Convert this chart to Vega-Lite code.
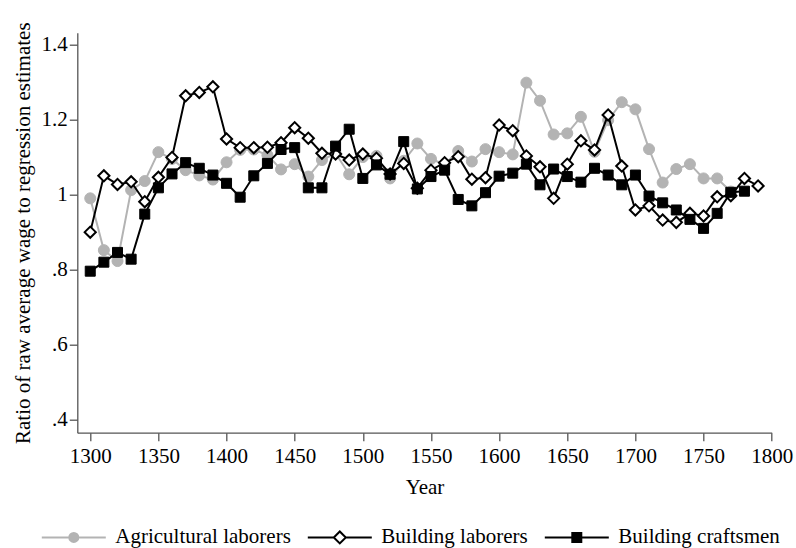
{
  "$schema": "https://vega.github.io/schema/vega-lite/v6.json",
  "width": 694.4,
  "height": 400,
  "autosize": "none",
  "padding": {"left": 77.3, "top": 32.7, "right": 24.3, "bottom": 115.3},
  "background": "#ffffff",
  "data": {"values": [
    {"series": "Agricultural laborers", "year": 1300, "value": 0.99},
    {"series": "Agricultural laborers", "year": 1310, "value": 0.852},
    {"series": "Agricultural laborers", "year": 1320, "value": 0.823},
    {"series": "Agricultural laborers", "year": 1330, "value": 1.012},
    {"series": "Agricultural laborers", "year": 1340, "value": 1.036},
    {"series": "Agricultural laborers", "year": 1350, "value": 1.113},
    {"series": "Agricultural laborers", "year": 1360, "value": 1.095},
    {"series": "Agricultural laborers", "year": 1370, "value": 1.065},
    {"series": "Agricultural laborers", "year": 1380, "value": 1.051},
    {"series": "Agricultural laborers", "year": 1390, "value": 1.04},
    {"series": "Agricultural laborers", "year": 1400, "value": 1.086},
    {"series": "Agricultural laborers", "year": 1410, "value": 1.119},
    {"series": "Agricultural laborers", "year": 1420, "value": 1.12},
    {"series": "Agricultural laborers", "year": 1430, "value": 1.105},
    {"series": "Agricultural laborers", "year": 1440, "value": 1.067},
    {"series": "Agricultural laborers", "year": 1450, "value": 1.081},
    {"series": "Agricultural laborers", "year": 1460, "value": 1.048},
    {"series": "Agricultural laborers", "year": 1470, "value": 1.092},
    {"series": "Agricultural laborers", "year": 1480, "value": 1.11},
    {"series": "Agricultural laborers", "year": 1490, "value": 1.054},
    {"series": "Agricultural laborers", "year": 1500, "value": 1.1},
    {"series": "Agricultural laborers", "year": 1510, "value": 1.103},
    {"series": "Agricultural laborers", "year": 1520, "value": 1.043},
    {"series": "Agricultural laborers", "year": 1530, "value": 1.09},
    {"series": "Agricultural laborers", "year": 1540, "value": 1.136},
    {"series": "Agricultural laborers", "year": 1550, "value": 1.095},
    {"series": "Agricultural laborers", "year": 1560, "value": 1.08},
    {"series": "Agricultural laborers", "year": 1570, "value": 1.116},
    {"series": "Agricultural laborers", "year": 1580, "value": 1.088},
    {"series": "Agricultural laborers", "year": 1590, "value": 1.121},
    {"series": "Agricultural laborers", "year": 1600, "value": 1.113},
    {"series": "Agricultural laborers", "year": 1610, "value": 1.107},
    {"series": "Agricultural laborers", "year": 1620, "value": 1.298},
    {"series": "Agricultural laborers", "year": 1630, "value": 1.25},
    {"series": "Agricultural laborers", "year": 1640, "value": 1.16},
    {"series": "Agricultural laborers", "year": 1650, "value": 1.163},
    {"series": "Agricultural laborers", "year": 1660, "value": 1.207},
    {"series": "Agricultural laborers", "year": 1670, "value": 1.114},
    {"series": "Agricultural laborers", "year": 1680, "value": 1.198},
    {"series": "Agricultural laborers", "year": 1690, "value": 1.246},
    {"series": "Agricultural laborers", "year": 1700, "value": 1.227},
    {"series": "Agricultural laborers", "year": 1710, "value": 1.121},
    {"series": "Agricultural laborers", "year": 1720, "value": 1.032},
    {"series": "Agricultural laborers", "year": 1730, "value": 1.068},
    {"series": "Agricultural laborers", "year": 1740, "value": 1.081},
    {"series": "Agricultural laborers", "year": 1750, "value": 1.043},
    {"series": "Agricultural laborers", "year": 1760, "value": 1.043},
    {"series": "Agricultural laborers", "year": 1770, "value": 1.008},
    {"series": "Building laborers", "year": 1300, "value": 0.9},
    {"series": "Building laborers", "year": 1310, "value": 1.05},
    {"series": "Building laborers", "year": 1320, "value": 1.027},
    {"series": "Building laborers", "year": 1330, "value": 1.034},
    {"series": "Building laborers", "year": 1340, "value": 0.981},
    {"series": "Building laborers", "year": 1350, "value": 1.046},
    {"series": "Building laborers", "year": 1360, "value": 1.099},
    {"series": "Building laborers", "year": 1370, "value": 1.263},
    {"series": "Building laborers", "year": 1380, "value": 1.272},
    {"series": "Building laborers", "year": 1390, "value": 1.287},
    {"series": "Building laborers", "year": 1400, "value": 1.148},
    {"series": "Building laborers", "year": 1410, "value": 1.125},
    {"series": "Building laborers", "year": 1420, "value": 1.125},
    {"series": "Building laborers", "year": 1430, "value": 1.126},
    {"series": "Building laborers", "year": 1440, "value": 1.138},
    {"series": "Building laborers", "year": 1450, "value": 1.178},
    {"series": "Building laborers", "year": 1460, "value": 1.15},
    {"series": "Building laborers", "year": 1470, "value": 1.11},
    {"series": "Building laborers", "year": 1480, "value": 1.108},
    {"series": "Building laborers", "year": 1490, "value": 1.092},
    {"series": "Building laborers", "year": 1500, "value": 1.108},
    {"series": "Building laborers", "year": 1510, "value": 1.097},
    {"series": "Building laborers", "year": 1520, "value": 1.055},
    {"series": "Building laborers", "year": 1530, "value": 1.083},
    {"series": "Building laborers", "year": 1540, "value": 1.017},
    {"series": "Building laborers", "year": 1550, "value": 1.065},
    {"series": "Building laborers", "year": 1560, "value": 1.085},
    {"series": "Building laborers", "year": 1570, "value": 1.101},
    {"series": "Building laborers", "year": 1580, "value": 1.041},
    {"series": "Building laborers", "year": 1590, "value": 1.045},
    {"series": "Building laborers", "year": 1600, "value": 1.185},
    {"series": "Building laborers", "year": 1610, "value": 1.17},
    {"series": "Building laborers", "year": 1620, "value": 1.103},
    {"series": "Building laborers", "year": 1630, "value": 1.074},
    {"series": "Building laborers", "year": 1640, "value": 0.99},
    {"series": "Building laborers", "year": 1650, "value": 1.081},
    {"series": "Building laborers", "year": 1660, "value": 1.143},
    {"series": "Building laborers", "year": 1670, "value": 1.119},
    {"series": "Building laborers", "year": 1680, "value": 1.212},
    {"series": "Building laborers", "year": 1690, "value": 1.076},
    {"series": "Building laborers", "year": 1700, "value": 0.959},
    {"series": "Building laborers", "year": 1710, "value": 0.97},
    {"series": "Building laborers", "year": 1720, "value": 0.932},
    {"series": "Building laborers", "year": 1730, "value": 0.926},
    {"series": "Building laborers", "year": 1740, "value": 0.95},
    {"series": "Building laborers", "year": 1750, "value": 0.943},
    {"series": "Building laborers", "year": 1760, "value": 0.994},
    {"series": "Building laborers", "year": 1770, "value": 0.997},
    {"series": "Building laborers", "year": 1780, "value": 1.043},
    {"series": "Building laborers", "year": 1790, "value": 1.023},
    {"series": "Building craftsmen", "year": 1300, "value": 0.796},
    {"series": "Building craftsmen", "year": 1310, "value": 0.82},
    {"series": "Building craftsmen", "year": 1320, "value": 0.846},
    {"series": "Building craftsmen", "year": 1330, "value": 0.828},
    {"series": "Building craftsmen", "year": 1340, "value": 0.948},
    {"series": "Building craftsmen", "year": 1350, "value": 1.018},
    {"series": "Building craftsmen", "year": 1360, "value": 1.055},
    {"series": "Building craftsmen", "year": 1370, "value": 1.085},
    {"series": "Building craftsmen", "year": 1380, "value": 1.07},
    {"series": "Building craftsmen", "year": 1390, "value": 1.052},
    {"series": "Building craftsmen", "year": 1400, "value": 1.03},
    {"series": "Building craftsmen", "year": 1410, "value": 0.993},
    {"series": "Building craftsmen", "year": 1420, "value": 1.05},
    {"series": "Building craftsmen", "year": 1430, "value": 1.083},
    {"series": "Building craftsmen", "year": 1440, "value": 1.12},
    {"series": "Building craftsmen", "year": 1450, "value": 1.125},
    {"series": "Building craftsmen", "year": 1460, "value": 1.018},
    {"series": "Building craftsmen", "year": 1470, "value": 1.018},
    {"series": "Building craftsmen", "year": 1480, "value": 1.129},
    {"series": "Building craftsmen", "year": 1490, "value": 1.174},
    {"series": "Building craftsmen", "year": 1500, "value": 1.043},
    {"series": "Building craftsmen", "year": 1510, "value": 1.079},
    {"series": "Building craftsmen", "year": 1520, "value": 1.054},
    {"series": "Building craftsmen", "year": 1530, "value": 1.141},
    {"series": "Building craftsmen", "year": 1540, "value": 1.015},
    {"series": "Building craftsmen", "year": 1550, "value": 1.048},
    {"series": "Building craftsmen", "year": 1560, "value": 1.065},
    {"series": "Building craftsmen", "year": 1570, "value": 0.987},
    {"series": "Building craftsmen", "year": 1580, "value": 0.97},
    {"series": "Building craftsmen", "year": 1590, "value": 1.005},
    {"series": "Building craftsmen", "year": 1600, "value": 1.049},
    {"series": "Building craftsmen", "year": 1610, "value": 1.057},
    {"series": "Building craftsmen", "year": 1620, "value": 1.081},
    {"series": "Building craftsmen", "year": 1630, "value": 1.026},
    {"series": "Building craftsmen", "year": 1640, "value": 1.068},
    {"series": "Building craftsmen", "year": 1650, "value": 1.048},
    {"series": "Building craftsmen", "year": 1660, "value": 1.033},
    {"series": "Building craftsmen", "year": 1670, "value": 1.07},
    {"series": "Building craftsmen", "year": 1680, "value": 1.052},
    {"series": "Building craftsmen", "year": 1690, "value": 1.026},
    {"series": "Building craftsmen", "year": 1700, "value": 1.052},
    {"series": "Building craftsmen", "year": 1710, "value": 0.996},
    {"series": "Building craftsmen", "year": 1720, "value": 0.978},
    {"series": "Building craftsmen", "year": 1730, "value": 0.959},
    {"series": "Building craftsmen", "year": 1740, "value": 0.934},
    {"series": "Building craftsmen", "year": 1750, "value": 0.91},
    {"series": "Building craftsmen", "year": 1760, "value": 0.95},
    {"series": "Building craftsmen", "year": 1770, "value": 1.006},
    {"series": "Building craftsmen", "year": 1780, "value": 1.009}
  ]},
  "encoding": {
    "x": {"field": "year", "type": "quantitative",
      "scale": {"domain": [1290.5, 1800], "nice": false, "zero": false},
      "axis": {"title": "Year", "values": [1300, 1350, 1400, 1450, 1500, 1550, 1600, 1650, 1700, 1750, 1800], "format": "d", "labelPadding": 5, "titlePadding": 10, "labelFlush": false, "labelOverlap": false}},
    "y": {"field": "value", "type": "quantitative",
      "scale": {"domain": [0.366, 1.431], "nice": false, "zero": false},
      "axis": {"title": "Ratio of raw average wage to regression estimates", "values": [0.4, 0.6, 0.8, 1, 1.2, 1.4], "labelExpr": "datum.value < 1 ? substring(format(datum.value, '.1f'), 1) : format(datum.value, '~g')", "labelPadding": 2, "titlePadding": 8, "labelOverlap": false}}
  },
  "layer": [
    {
      "mark": {"type": "point", "filled": true, "opacity": 0, "strokeWidth": 2, "size": 100},
      "encoding": {
        "fill": {"field": "series", "type": "nominal",
          "scale": {"domain": ["Agricultural laborers", "Building laborers", "Building craftsmen"], "range": ["#b3b3b3", "#ffffff", "#000000"]},
          "legend": {"title": null, "orient": "none", "legendX": -41, "legendY": 494, "direction": "horizontal", "symbolSize": 100, "symbolStrokeWidth": 2, "symbolOpacity": 1,
            "labelOffset": 58, "columnPadding": 11, "labelFont": "Liberation Serif", "labelFontSize": 21, "labelColor": "#000000", "padding": 0, "labelLimit": 400}},
        "stroke": {"field": "series", "type": "nominal",
          "scale": {"domain": ["Agricultural laborers", "Building laborers", "Building craftsmen"], "range": ["#b3b3b3", "#000000", "#000000"]}},
        "shape": {"field": "series", "type": "nominal",
          "scale": {"domain": ["Agricultural laborers", "Building laborers", "Building craftsmen"], "range": [
            "M-1,0H11.8M5.4,-0.9A0.9,0.9,0,1,1,5.4,0.9A0.9,0.9,0,1,1,5.4,-0.9ZM5.4,-0.5A0.5,0.5,0,1,1,5.4,0.5A0.5,0.5,0,1,1,5.4,-0.5ZM5.4,-0.1A0.1,0.1,0,1,1,5.4,0.1A0.1,0.1,0,1,1,5.4,-0.1Z",
            "M-1,0H4.2M6.6,0H11.8M4.2,0L5.4,-1.2L6.6,0L5.4,1.2Z",
            "M-1,0H11.8M4.5,-0.9H6.3V0.9H4.5ZM4.5,-0.5H6.3M4.5,-0.1H6.3M4.5,0.3H6.3M4.5,0.7H6.3"]}}
      }
    },
    {
      "transform": [{"filter": "datum.series == 'Agricultural laborers'"}],
      "layer": [
        {"mark": {"type": "line", "strokeWidth": 2, "stroke": "#b3b3b3"}, "encoding": {}},
        {"mark": {"type": "point", "filled": true, "opacity": 1, "strokeWidth": 1, "fill": "#b3b3b3", "stroke": "#b3b3b3", "shape": "circle", "size": 121}, "encoding": {}}
      ]
    },
    {
      "transform": [{"filter": "datum.series == 'Building laborers'"}],
      "layer": [
        {"mark": {"type": "line", "strokeWidth": 2, "stroke": "#000000"}, "encoding": {}},
        {"mark": {"type": "point", "filled": true, "opacity": 1, "strokeWidth": 2, "fill": "#ffffff", "stroke": "#000000", "shape": "diamond", "size": 125}, "encoding": {}}
      ]
    },
    {
      "transform": [{"filter": "datum.series == 'Building craftsmen'"}],
      "layer": [
        {"mark": {"type": "line", "strokeWidth": 2, "stroke": "#000000"}, "encoding": {}},
        {"mark": {"type": "point", "filled": true, "opacity": 1, "strokeWidth": 1, "fill": "#000000", "stroke": "#000000", "shape": "square", "size": 100}, "encoding": {}}
      ]
    }
  ],
  "config": {
    "view": {"stroke": null},
    "font": "Liberation Serif",
    "axis": {"grid": false, "labelFont": "Liberation Serif", "labelFontSize": 21, "labelColor": "#000000", "titleFont": "Liberation Serif", "titleFontSize": 21, "titleFontWeight": "normal", "titleColor": "#000000", "domainColor": "#555555", "domainWidth": 1.3, "tickColor": "#555555", "tickWidth": 1.3, "tickSize": 8}
  }
}
